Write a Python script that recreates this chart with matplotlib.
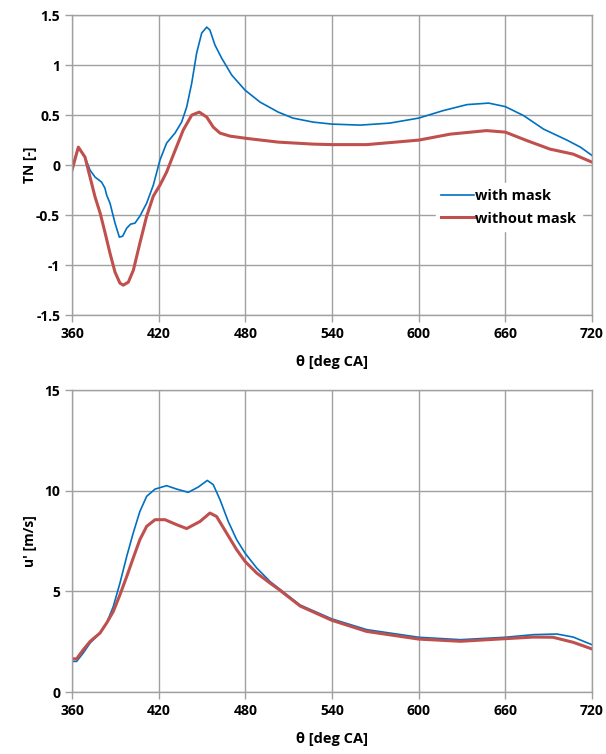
import numpy as np
import matplotlib.pyplot as plt

plt.rcParams['font.family'] = ['Open Sans', 'DejaVu Sans']
plt.rcParams['font.weight'] = 'bold'

# TN, with mask
tn_mask_x = [360, 364.4, 369, 372.5, 376, 380.5, 382.8, 384, 386.3, 389.8, 392.8, 395.1,
             397.9, 400.6, 403.6, 407, 411.7, 416.3, 420.9, 425.5, 431.3, 435.9, 439.4,
             442.9, 446.3, 449.8, 453.3, 455.5, 459, 463.6, 470.6, 479.8, 490.2, 502.8,
             513, 527, 540, 559.6, 580, 600, 617, 633.5, 648.5, 660, 672.7, 686.5, 702.7,
             712, 720]
tn_mask_y = [-0.03, 0.18, 0.08, -0.05, -0.12, -0.17, -0.23, -0.30, -0.38, -0.58, -0.72, -0.71,
             -0.63, -0.59, -0.58, -0.51, -0.38, -0.20, 0.05, 0.22, 0.32, 0.43, 0.58,
             0.82, 1.12, 1.32, 1.38, 1.35, 1.20, 1.07, 0.90, 0.75, 0.63, 0.53,
             0.47, 0.43, 0.41, 0.40, 0.42, 0.47, 0.545, 0.605, 0.62, 0.585, 0.495, 0.36, 0.25,
             0.18, 0.097]

# TN, without mask
tn_nomask_x = [360, 364.4, 369, 372.5, 376, 379.5, 382.8, 386.3, 389.8, 393.2, 395.5, 399,
               402.5, 407, 411.7, 416.3, 420.9, 425.5, 430.1, 437, 442.9, 448.1, 453.3, 457.8,
               462.5, 469.4, 481, 502.8, 527, 540, 564, 600, 622, 647, 660, 675, 691, 707, 720]
tn_nomask_y = [-0.05, 0.18, 0.08, -0.12, -0.32, -0.48, -0.67, -0.88, -1.07, -1.18, -1.2, -1.17,
               -1.05, -0.78, -0.51, -0.31, -0.20, -0.07, 0.10, 0.35, 0.50, 0.53, 0.48, 0.38,
               0.32, 0.29, 0.267, 0.23, 0.21, 0.205, 0.205, 0.25, 0.31, 0.345, 0.33, 0.245,
               0.16, 0.11, 0.03]

# u', with mask
u_mask_x = [360, 363.2, 367.8, 372.5, 379.4, 384, 388.6, 393.2, 397.9, 402.4, 407, 411.7,
            417.5, 425.5, 432.5, 440.5, 447.4, 453.7, 457.8, 462.5, 468.2, 474, 479.8, 487.9,
            497.1, 502.8, 518, 540, 564, 600, 629, 660, 679.6, 695.8, 707, 720]
u_mask_y = [1.52, 1.52, 1.94, 2.43, 2.93, 3.43, 4.25, 5.41, 6.74, 7.9, 8.97, 9.72,
            10.08, 10.25, 10.08, 9.92, 10.18, 10.51, 10.3, 9.55, 8.47, 7.57, 6.9, 6.16,
            5.49, 5.17, 4.32, 3.63, 3.10, 2.72, 2.6, 2.72, 2.85, 2.88, 2.73, 2.35]

# u', without mask
u_nomask_x = [360, 363.2, 367.8, 372.5, 379.4, 384, 388.6, 393.2, 397.9, 402.4, 407, 411.7,
              417.5, 424.4, 432.5, 439.4, 448.6, 455.5, 460.1, 467, 474, 479.8, 487.9, 497.1,
              502.8, 518, 540, 564, 600, 629, 660, 679.6, 693, 707, 720]
u_nomask_y = [1.65, 1.65, 2.1, 2.51, 2.93, 3.43, 4.0, 4.83, 5.74, 6.66, 7.57, 8.23,
              8.56, 8.56, 8.31, 8.12, 8.47, 8.89, 8.72, 7.9, 7.07, 6.49, 5.91, 5.41,
              5.12, 4.27, 3.56, 3.01, 2.63, 2.52, 2.65, 2.73, 2.72, 2.47, 2.14]

x_ticks = [360, 420, 480, 540, 600, 660, 720]
tn_ticks = [-1.5, -1, -0.5, 0, 0.5, 1, 1.5]
tn_labels = ['-1.5', '-1', '-0.5', '0', '0.5', '1', '1.5']
u_ticks = [0, 5, 10, 15]

blue = '#0070C0'
red = '#C0504D'
grey = '#a0a0a0'

fig = plt.figure(figsize=(6.06, 7.54), dpi=100)
ax1 = fig.add_axes([0.1188, 0.582, 0.858, 0.398])
ax2 = fig.add_axes([0.1188, 0.0822, 0.858, 0.4005])


def style(ax):
    ax.grid(True, color=grey, lw=1)
    ax.set_axisbelow(True)
    for s in ax.spines.values():
        s.set_color(grey)
        s.set_linewidth(1)
    ax.tick_params(axis='both', colors=grey, labelcolor='black', labelsize=10,
                   length=5, width=1)
    ax.set_xlim(360, 720)
    ax.set_xticks(x_ticks)
    ax.set_xlabel('θ [deg CA]', fontsize=10.5, fontweight='bold', labelpad=10)
    ax.yaxis.set_label_coords(-0.068, 0.5)
    for lab in ax.get_xticklabels() + ax.get_yticklabels():
        lab.set_fontweight('bold')


ax1.plot(tn_mask_x, tn_mask_y, color=blue, lw=1.2, label='with mask')
ax1.plot(tn_nomask_x, tn_nomask_y, color=red, lw=2.2, label='without mask')
ax1.set_ylim(-1.5, 1.5)
ax1.set_yticks(tn_ticks)
ax1.set_yticklabels(tn_labels)
ax1.set_ylabel('TN [-]', fontsize=10, fontweight='bold')
style(ax1)
leg = ax1.legend(loc='center', bbox_to_anchor=(0.84, 0.36), frameon=True,
                 fontsize=10.5, handlelength=2.2, handletextpad=0.1, borderpad=0.4,
                 labelspacing=0.6)
leg.get_frame().set_edgecolor('white')
leg.get_frame().set_alpha(1)
for t in leg.get_texts():
    t.set_fontweight('bold')

ax2.plot(u_mask_x, u_mask_y, color=blue, lw=1.2)
ax2.plot(u_nomask_x, u_nomask_y, color=red, lw=2.2)
ax2.set_ylim(0, 15)
ax2.set_yticks(u_ticks)
ax2.set_ylabel("u' [m/s]", fontsize=10, fontweight='bold')
style(ax2)

fig.savefig('out.png', dpi=100)
